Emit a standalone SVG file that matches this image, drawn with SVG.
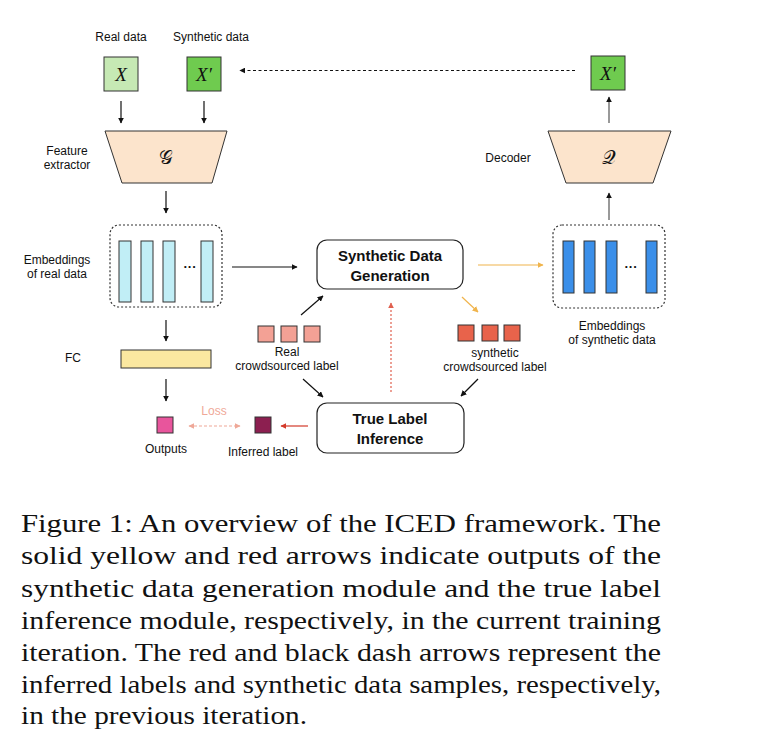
<svg xmlns="http://www.w3.org/2000/svg" width="765" height="729" viewBox="0 0 765 729">
<defs>
<marker id="ab" viewBox="0 0 10 10" refX="9" refY="5" markerWidth="6" markerHeight="6" orient="auto-start-reverse" markerUnits="userSpaceOnUse"><path d="M0,0 L10,5 L0,10 z" fill="#111"/></marker>
<marker id="ay" viewBox="0 0 10 10" refX="9" refY="5" markerWidth="6" markerHeight="6" orient="auto" markerUnits="userSpaceOnUse"><path d="M0,0 L10,5 L0,10 z" fill="#f0b44c"/></marker>
<marker id="ar" viewBox="0 0 10 10" refX="9" refY="5" markerWidth="6" markerHeight="6" orient="auto" markerUnits="userSpaceOnUse"><path d="M0,0 L10,5 L0,10 z" fill="#d33a2a"/></marker>
<marker id="ard" viewBox="0 0 10 10" refX="9" refY="5" markerWidth="6" markerHeight="6" orient="auto" markerUnits="userSpaceOnUse"><path d="M0,0 L10,5 L0,10 z" fill="#e0604f"/></marker>
<marker id="al" viewBox="0 0 10 10" refX="9" refY="5" markerWidth="6" markerHeight="6" orient="auto-start-reverse" markerUnits="userSpaceOnUse"><path d="M0,0 L10,5 L0,10 z" fill="#efa898"/></marker>
</defs>
<style>
text{font-family:"Liberation Sans",Arial,sans-serif;fill:#111}
.lb{font-size:12px}
.hd{font-size:15px;font-weight:bold;text-anchor:middle}
.c{text-anchor:middle}
.m{font-family:"Liberation Serif","DejaVu Serif",serif;font-style:italic;font-size:19px;text-anchor:middle}
.sc{font-family:"DejaVu Serif","DejaVu Sans","Noto Sans",serif;font-size:19px;text-anchor:middle}
.cap{font-family:"Liberation Serif","Times New Roman",serif;font-size:26px}
.box{stroke:#333;stroke-width:1}
.trap{fill:#fce4cc;stroke:#333;stroke-width:1}
.bar1{fill:#c1eef6;stroke:#333;stroke-width:1}
.bar2{fill:#3b8fe9;stroke:#333;stroke-width:1}
.dash{fill:none;stroke:#333;stroke-width:1.2;stroke-dasharray:2 2}
.rbox{fill:#fff;stroke:#222;stroke-width:1.2}
.k{stroke:#111;stroke-width:1.2;fill:none;marker-end:url(#ab)}
.g{stroke:#555;stroke-width:1.2;fill:none;marker-end:url(#ab)}
</style>
<rect width="765" height="729" fill="#fff"/>

<g id="connectors">
<line class="k" x1="121" y1="101" x2="121" y2="123"/>
<line class="k" x1="204" y1="101" x2="204" y2="123"/>
<line class="k" x1="166" y1="191" x2="166" y2="213"/>
<line class="k" x1="232" y1="267" x2="297" y2="267"/>
<line class="k" x1="166" y1="320" x2="166" y2="341"/>
<line class="k" x1="166" y1="379" x2="166" y2="401"/>
<line class="g" x1="609" y1="220" x2="609" y2="193"/>
<line class="g" x1="609" y1="123" x2="609" y2="97"/>
<line stroke="#111" stroke-width="1" stroke-dasharray="3 2.5" x1="575" y1="70.5" x2="240" y2="70.5" marker-end="url(#ab)"/>
<line stroke="#f0b44c" stroke-width="1.2" x1="478" y1="265" x2="543" y2="265" marker-end="url(#ay)"/>
<line stroke="#f0b44c" stroke-width="1.2" x1="462" y1="297" x2="478" y2="312" marker-end="url(#ay)"/>
<line class="k" x1="301" y1="315" x2="323" y2="296"/>
<line class="k" x1="303" y1="379" x2="323" y2="397"/>
<line class="k" x1="478" y1="379" x2="461" y2="396"/>
<line stroke="#e0604f" stroke-width="1.2" stroke-dasharray="2 2" x1="391" y1="392" x2="391" y2="303" marker-end="url(#ard)"/>
<line stroke="#d33a2a" stroke-width="1.2" x1="308" y1="426" x2="281" y2="426" marker-end="url(#ar)"/>
<line stroke="#efa898" stroke-width="1.2" stroke-dasharray="3 2" x1="189" y1="426" x2="240" y2="426" marker-start="url(#al)" marker-end="url(#al)"/>
</g>

<g id="real-data">
<text class="lb c" x="121" y="41">Real data</text>
<rect class="box" x="104" y="57" width="34" height="34" fill="#c6e9b4"/>
<text class="m" x="121" y="81">X</text>
</g>
<g id="synthetic-data">
<text class="lb c" x="211" y="41">Synthetic data</text>
<rect class="box" x="187" y="57" width="34" height="34" fill="#6fcb4f"/>
<text class="m" x="204" y="81">X′</text>
</g>
<g id="synthetic-out">
<rect class="box" x="591" y="56" width="34" height="34" fill="#6fcb4f"/>
<text class="m" x="608" y="80">X′</text>
</g>

<g id="feature-extractor">
<text class="lb c" x="67" y="155">Feature</text>
<text class="lb c" x="67" y="169">extractor</text>
<polygon class="trap" points="105,131 227,131 212,183 122,183"/>
<text class="sc" x="166" y="164">𝒢</text>
</g>
<g id="decoder">
<text class="lb c" x="508" y="162">Decoder</text>
<polygon class="trap" points="548,131 671,131 653,183 566,183"/>
<text class="sc" x="609" y="164">𝒬</text>
</g>

<g id="embeddings-real">
<text class="lb c" x="57" y="264">Embeddings</text>
<text class="lb c" x="57" y="278">of real data</text>
<rect class="dash" x="110" y="225" width="112" height="82" rx="9"/>
<rect class="bar1" x="119" y="241" width="12" height="61"/>
<rect class="bar1" x="141" y="241" width="12" height="61"/>
<rect class="bar1" x="163" y="241" width="12" height="61"/>
<text x="190" y="271" class="c" font-size="13" font-weight="bold">···</text>
<rect class="bar1" x="201" y="241" width="12" height="61"/>
</g>

<g id="embeddings-synthetic">
<rect class="dash" x="553" y="225" width="112" height="83" rx="9"/>
<rect class="bar2" x="563" y="241" width="11" height="52"/>
<rect class="bar2" x="584" y="241" width="11" height="52"/>
<rect class="bar2" x="606" y="241" width="11" height="52"/>
<text x="631" y="271" class="c" font-size="13" font-weight="bold">···</text>
<rect class="bar2" x="646" y="241" width="11" height="52"/>
<text class="lb c" x="612" y="330">Embeddings</text>
<text class="lb c" x="612" y="344">of synthetic data</text>
</g>

<g id="sdg">
<rect class="rbox" x="317" y="240" width="146" height="49" rx="10"/>
<text class="hd" x="390" y="261">Synthetic Data</text>
<text class="hd" x="390" y="281">Generation</text>
</g>

<g id="tli">
<rect class="rbox" x="317" y="403" width="147" height="50" rx="10"/>
<text class="hd" x="390" y="424">True Label</text>
<text class="hd" x="390" y="444">Inference</text>
</g>

<g id="real-labels">
<rect class="box" x="258" y="326" width="16" height="16" fill="#f3a195"/>
<rect class="box" x="281" y="326" width="16" height="16" fill="#f3a195"/>
<rect class="box" x="304" y="326" width="16" height="16" fill="#f3a195"/>
<text class="lb c" x="287" y="356">Real</text>
<text class="lb c" x="287" y="370">crowdsourced label</text>
</g>

<g id="synthetic-labels">
<rect class="box" x="458" y="325" width="16" height="16" fill="#e8634b"/>
<rect class="box" x="482" y="325" width="16" height="16" fill="#e8634b"/>
<rect class="box" x="504" y="325" width="16" height="16" fill="#e8634b"/>
<text class="lb c" x="495" y="357">synthetic</text>
<text class="lb c" x="495" y="371">crowdsourced label</text>
</g>

<g id="fc">
<text class="lb c" x="73" y="362">FC</text>
<rect class="box" x="121" y="350" width="90" height="18" fill="#fbe8a0"/>
</g>

<g id="outputs">
<rect class="box" x="157" y="417" width="16" height="16" fill="#e8559c"/>
<text class="lb c" x="166" y="453">Outputs</text>
</g>
<g id="loss">
<text class="lb c" x="214" y="415" style="fill:#efa898">Loss</text>
</g>
<g id="inferred">
<rect class="box" x="255" y="417" width="16" height="16" fill="#8c1f50"/>
<text class="lb c" x="263" y="456">Inferred label</text>
</g>

<g id="caption">
<text class="cap" x="21" y="532" textLength="640" lengthAdjust="spacingAndGlyphs">Figure 1:  An overview of the ICED framework.  The</text>
<text class="cap" x="21" y="564" textLength="640" lengthAdjust="spacingAndGlyphs">solid yellow and red arrows indicate outputs of the</text>
<text class="cap" x="21" y="597" textLength="640" lengthAdjust="spacingAndGlyphs">synthetic data generation module and the true label</text>
<text class="cap" x="21" y="629" textLength="640" lengthAdjust="spacingAndGlyphs">inference module, respectively, in the current training</text>
<text class="cap" x="21" y="661" textLength="640" lengthAdjust="spacingAndGlyphs">iteration. The red and black dash arrows represent the</text>
<text class="cap" x="21" y="693" textLength="640" lengthAdjust="spacingAndGlyphs">inferred labels and synthetic data samples, respectively,</text>
<text class="cap" x="21" y="724" textLength="286" lengthAdjust="spacingAndGlyphs">in the previous iteration.</text>
</g>
</svg>
